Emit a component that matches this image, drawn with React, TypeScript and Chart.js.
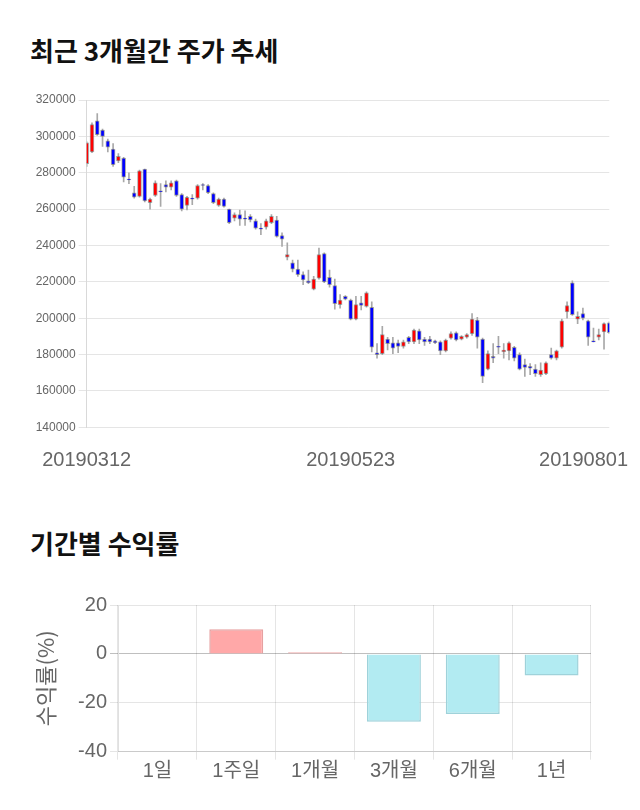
import React, { useEffect, useRef } from 'react';
import { Chart, registerables } from 'chart.js';

Chart.register(...registerables);

// ---------- price chart data ----------
const dates = [
  '20190312','20190313','20190314','20190315','20190318','20190319','20190320','20190321','20190322','20190325',
  '20190326','20190327','20190328','20190329','20190401','20190402','20190403','20190404','20190405','20190408',
  '20190409','20190410','20190411','20190412','20190415','20190416','20190417','20190418','20190419','20190422',
  '20190423','20190424','20190425','20190426','20190429','20190430','20190502','20190503','20190507','20190508',
  '20190509','20190510','20190513','20190514','20190515','20190516','20190517','20190520','20190521','20190522',
  '20190523','20190524','20190527','20190528','20190529','20190530','20190531','20190603','20190604','20190605',
  '20190607','20190610','20190611','20190612','20190613','20190614','20190617','20190618','20190619','20190620',
  '20190621','20190624','20190625','20190626','20190627','20190628','20190701','20190702','20190703','20190704',
  '20190705','20190708','20190709','20190710','20190711','20190712','20190715','20190716','20190717','20190718',
  '20190719','20190722','20190723','20190724','20190725','20190726','20190729','20190730','20190731','20190801',
];

const opens = [
  285000,291500,308500,303500,297500,293000,286500,288000,276500,269000,
  267000,282000,263500,267500,270000,273500,272000,275500,268000,262000,
  266000,266000,273500,273000,268500,262000,265500,260000,255000,257000,
  255000,256000,253500,249500,250000,252500,254000,245500,233500,230500,
  227000,224000,220500,216000,222000,235500,222500,218000,207500,212000,
  210000,199500,208500,206500,206000,181000,180500,188500,186500,186500,
  184500,189500,187000,193000,188500,188500,187500,187000,182000,189000,
  192000,188500,189500,191500,199000,188500,172000,179000,184500,181500,
  182000,184000,180000,174500,173500,172000,169000,169500,180000,178000,
  184000,203500,219500,199500,202500,198500,187500,189500,192500,197500,
];

const highs = [
  297000,307500,312500,304000,298500,296000,290500,288500,280000,272500,
  281500,282000,266000,275500,274000,275500,275500,276000,268500,267000,
  268000,273500,274000,273500,269000,266000,266000,260000,258000,259500,
  259000,257000,254500,252000,254500,257000,256000,247000,241500,232000,
  232000,225500,226500,223000,238500,236000,226500,221500,213000,212500,
  210500,212000,212000,214500,209000,186000,195500,189500,189500,188000,
  188000,190000,194000,194000,189500,190000,188000,187500,188500,192500,
  192500,190500,191500,202500,200500,189000,182000,186000,190000,186000,
  187000,184500,181000,177500,175000,174500,175500,176000,183500,182500,
  199500,209000,220500,203500,205500,199000,194500,194000,197500,198000,
];

const lows = [
  283500,291000,300500,294500,291500,283500,285500,275000,274000,266000,
  266500,264000,260000,267000,261500,269500,270500,267000,259000,259500,
  262500,265500,270500,268500,263000,261500,261000,252000,253500,251000,
  251000,253000,249000,246000,249000,252000,244500,239500,232000,225500,
  223000,218500,219000,215500,221500,219500,217000,205000,205500,210000,
  199000,199000,204500,206000,181500,178000,180000,182500,180500,181000,
  183500,186000,186000,186000,185000,186000,186000,180000,181500,188500,
  187500,188000,189000,190500,183500,164500,171500,175500,180500,178000,
  177000,176500,171500,168000,169000,168000,168000,169000,177500,177000,
  183500,200000,201500,197000,199000,185000,187000,188000,183000,191500,
];

const closes = [
  296500,306500,301000,300000,294000,284500,289000,277500,276000,266500,
  281000,264500,265500,274500,269500,272000,274500,267500,260000,266500,
  265500,273000,273000,269000,263500,265500,261500,252500,257000,254500,
  254500,254000,249500,249000,253500,256000,245000,243500,235000,227000,
  224000,221000,219500,221500,235000,220000,218500,208000,210000,210500,
  199500,207500,207000,214000,184000,180000,191000,186000,183500,184500,
  187000,187000,193500,188000,187000,187000,186500,182000,188000,191500,
  188000,190000,191000,199500,189500,168000,180500,178000,184000,182500,
  186500,178000,172000,173000,172500,169500,171500,175500,178000,182000,
  198500,207000,202000,201000,200000,189500,187000,191000,197000,192000,
];

const xTickLabels = ['20190312', '20190523', '20190801'];
const priceMin = 140000;
const priceMax = 320000;
const priceStep = 20000;

// ---------- returns chart data ----------
const periods = ['1일', '1주일', '1개월', '3개월', '6개월', '1년'];
const returns = [0, 10.1, 0.7, -27.7, -24.6, -8.8];
const returnMin = -40;
const returnMax = 20;
const returnStep = 20;

const FONT = "Arial, 'Liberation Sans', 'Noto Sans CJK KR', sans-serif";
const KFONT = "'Noto Sans CJK KR', 'Noto Sans', sans-serif";

const dateLabelPlugin = {
  id: 'dateLabels',
  afterDraw(chart: any) {
    const xs = chart.scales.x;
    const ctx = chart.ctx;
    ctx.save();
    ctx.font = `20px ${FONT}`;
    ctx.fillStyle = '#666';
    ctx.textAlign = 'center';
    ctx.textBaseline = 'middle';
    const y = chart.chartArea.bottom + 33;
    xTickLabels.forEach((lab) => {
      const i = dates.indexOf(lab);
      if (i < 0) return;
      let x = xs.getPixelForValue(i);
      const w = ctx.measureText(lab).width;
      x = Math.min(x, chart.width - 12 - w / 2);
      x = Math.max(x, w / 2);
      ctx.fillText(lab, x, y);
    });
    ctx.restore();
  },
};

function PriceChart() {
  const ref = useRef<HTMLCanvasElement>(null);
  useEffect(() => {
    if (!ref.current) return;
    const bodies = dates.map((_, i) => [opens[i], closes[i]]);
    const wicks = dates.map((_, i) => [lows[i], highs[i]]);
    const colors = dates.map((_, i) => (closes[i] > opens[i] ? '#ff0000' : '#0000ff'));
    const chart = new Chart(ref.current, {
      type: 'bar',
      data: {
        labels: dates,
        datasets: [
          {
            data: bodies as any,
            backgroundColor: colors,
            borderColor: 'rgba(70,70,70,0.45)',
            borderWidth: 1,
            borderSkipped: false,
            barThickness: 4,
            grouped: false,
          } as any,
          {
            data: wicks as any,
            backgroundColor: '#a8a8a8',
            borderWidth: 0,
            barThickness: 1,
            grouped: false,
          } as any,
        ],
      },
      options: {
        animation: false,
        responsive: false,
        maintainAspectRatio: false,
        layout: { padding: { left: 0, right: 30.7, top: 15, bottom: 57.7 } },
        plugins: { legend: { display: false }, tooltip: { enabled: false } },
        scales: {
          x: { display: false, offset: false },
          y: {
            min: priceMin,
            max: priceMax,
            ticks: {
              stepSize: priceStep,
              font: { size: 12, family: FONT },
              color: '#666',
              padding: 3,
              callback: (v: any) => String(v),
            },
            grid: { color: 'rgba(0,0,0,0.1)', tickLength: 8 },
            border: { color: 'rgba(0,0,0,0.15)' },
            afterFit: (s: any) => {
              s.width = 86.7;
            },
          },
        },
      } as any,
      plugins: [dateLabelPlugin],
    });
    return () => chart.destroy();
  }, []);
  return (
    <canvas
      ref={ref}
      width={640}
      height={400}
      style={{ position: 'absolute', left: 0, top: 85, width: 640, height: 400 }}
    />
  );
}

function ReturnChart() {
  const ref = useRef<HTMLCanvasElement>(null);
  useEffect(() => {
    if (!ref.current) return;
    const chart = new Chart(ref.current, {
      type: 'bar',
      data: {
        labels: periods,
        datasets: [
          {
            data: returns,
            backgroundColor: returns.map((v) => (v >= 0 ? '#ffa8a8' : '#b2ebf2')),
            borderColor: returns.map((v) => (v >= 0 ? '#e6a0a0' : '#9fd2da')),
            borderWidth: 1.5,
            categoryPercentage: 0.76,
            barPercentage: 0.9,
          },
        ],
      },
      options: {
        animation: false,
        responsive: false,
        maintainAspectRatio: false,
        layout: { padding: { left: 30, right: 49, top: 25, bottom: 16.3 } },
        plugins: { legend: { display: false }, tooltip: { enabled: false } },
        scales: {
          x: {
            grid: { color: 'rgba(0,0,0,0.1)', tickLength: 8 },
            border: { color: 'rgba(0,0,0,0.12)' },
            ticks: { font: { size: 20, family: FONT }, color: '#666', padding: 0 },
          },
          y: {
            min: returnMin,
            max: returnMax,
            ticks: {
              stepSize: returnStep,
              font: { size: 20, family: FONT },
              color: '#666',
              padding: 3,
            },
            grid: {
              color: (c: any) =>
                c.tick && c.tick.value === 0 ? 'rgba(0,0,0,0.25)' : 'rgba(0,0,0,0.1)',
              tickLength: 8,
            },
            border: { color: 'rgba(0,0,0,0.12)' },
            title: {
              display: true,
              text: '수익률(%)',
              font: { size: 22, family: KFONT },
              color: '#666',
              padding: { top: 2, bottom: 4 },
            },
            afterFit: (s: any) => {
              s.width = 88;
            },
          },
        },
      } as any,
    });
    return () => chart.destroy();
  }, []);
  return (
    <canvas
      ref={ref}
      width={640}
      height={220}
      style={{ position: 'absolute', left: 0, top: 580, width: 640, height: 220 }}
    />
  );
}

const titleStyle: React.CSSProperties = {
  position: 'absolute',
  left: 30,
  margin: 0,
  fontFamily: KFONT,
  fontWeight: 700,
  fontSize: 26,
  lineHeight: '32px',
  color: '#111',
  whiteSpace: 'nowrap',
};

export default function App() {
  return (
    <div style={{ position: 'absolute', left: 0, top: 0, width: 640, height: 810, background: '#fff' }}>
      <div style={{ ...titleStyle, top: 34 }}>최근 3개월간 주가 추세</div>
      <PriceChart />
      <div style={{ ...titleStyle, top: 527 }}>기간별 수익률</div>
      <ReturnChart />
    </div>
  );
}
